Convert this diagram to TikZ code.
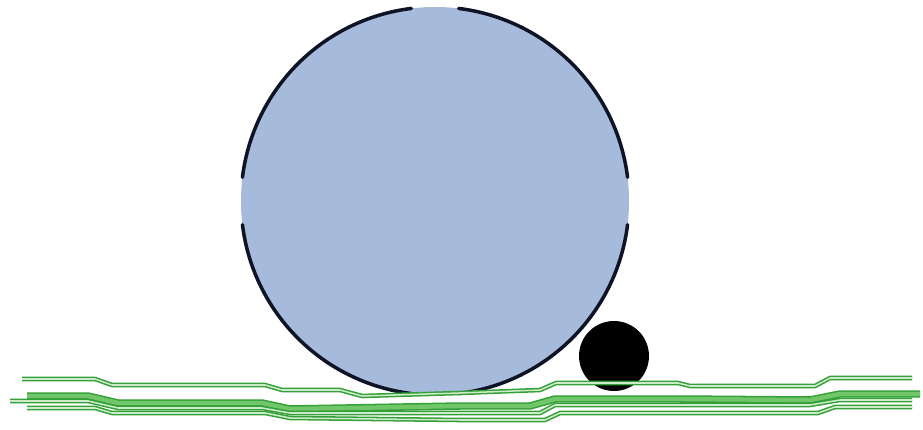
\documentclass[tikz,border=0pt]{standalone}
\usepackage{tikz}
\usepackage{xcolor}
\definecolor{ballblue}{RGB}{166,187,219}
\definecolor{rimnavy}{RGB}{14,20,38}
\definecolor{grassgreen}{RGB}{52,160,56}
\definecolor{grasslight}{RGB}{112,198,104}

\begin{document}
\begin{tikzpicture}[
      x=0.03cm, y=-0.03cm,
      rim/.style={draw=rimnavy, line width=3pt, line cap=round},
      blade/.style={draw=grassgreen, line width=1.3pt, double=grasslight!35, double distance=1.3pt, line join=round},
      band/.style={draw=grassgreen, line width=1.3pt, double=grasslight, double distance=3.8pt, line join=round}
    ]
      \useasboundingbox (0,0) rectangle (923,430);
      \coordinate (big) at (435,201);
      \coordinate (small) at (614,356);
      % large ball with broken rim
      \fill[ballblue] (big) circle[radius=194];
      \foreach \a in {0,90,180,270}
        \draw[rim] (big) ++(\a+7:194) arc[start angle=\a+7, end angle=\a+83, radius=194];
      % small ball
      \fill[black] (small) circle[radius=35];
      % ground
      \draw[blade] (22,379) -- (95,379) -- (112,385) -- (265,385) -- (282,390) -- (340,390) -- (362,396)
        -- (460,393) -- (540,390) -- (556,383) -- (678,383) -- (690,386) -- (815,386) -- (830,378) -- (912,378);
      \draw[band] (27,396) -- (88,396) -- (118,403) -- (262,403) -- (290,409) -- (460,406) -- (530,406)
        -- (555,399) -- (680,399) -- (810,400) -- (840,394) -- (920,394);
      \draw[blade] (10,401) -- (88,401) -- (118,408) -- (262,408) -- (290,413) -- (460,413) -- (540,413)
        -- (555,405) -- (680,405) -- (810,405) -- (840,400) -- (912,400);
      \draw[blade] (27,408) -- (95,408) -- (112,413) -- (265,413) -- (290,418) -- (460,420) -- (545,420)
        -- (560,413) -- (818,413) -- (835,407) -- (912,407);
    \end{tikzpicture}
\end{document}
